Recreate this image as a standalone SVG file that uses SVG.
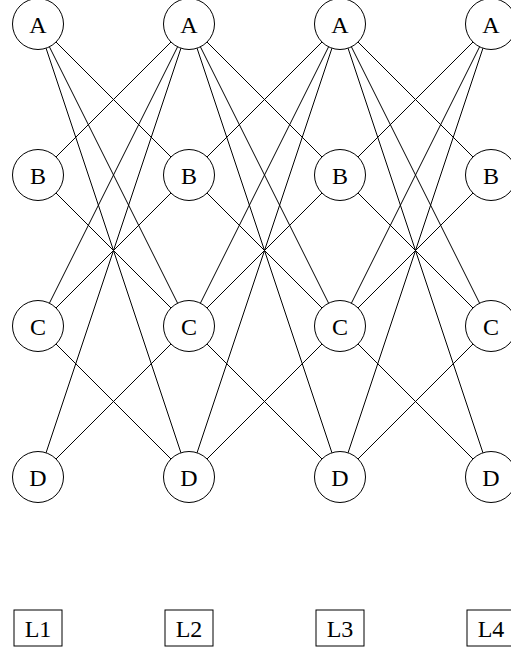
<svg xmlns="http://www.w3.org/2000/svg" width="511" height="651" viewBox="0 0 511 651">
<style>
.n circle{fill:#fff;stroke:#000;stroke-width:1}
.lab rect{fill:#fff;stroke:#000;stroke-width:1}
text{font-family:"Liberation Serif","Times New Roman",serif;font-size:24px;fill:#000;text-anchor:middle}
#edges line{stroke:#000;stroke-width:1}
</style>
<rect width="511" height="651" fill="#fff"/>
<g id="edges">
<line x1="56.03" y1="42.03" x2="170.97" y2="156.97"/>
<line x1="49.40" y1="46.81" x2="177.60" y2="303.19"/>
<line x1="46.06" y1="48.19" x2="180.94" y2="452.81"/>
<line x1="56.03" y1="156.97" x2="170.97" y2="42.03"/>
<line x1="56.03" y1="193.03" x2="170.97" y2="307.97"/>
<line x1="49.40" y1="303.19" x2="177.60" y2="46.81"/>
<line x1="56.03" y1="307.97" x2="170.97" y2="193.03"/>
<line x1="56.03" y1="344.03" x2="170.97" y2="458.97"/>
<line x1="46.06" y1="452.81" x2="180.94" y2="48.19"/>
<line x1="56.03" y1="458.97" x2="170.97" y2="344.03"/>
<line x1="207.03" y1="42.03" x2="321.97" y2="156.97"/>
<line x1="200.40" y1="46.81" x2="328.60" y2="303.19"/>
<line x1="197.06" y1="48.19" x2="331.94" y2="452.81"/>
<line x1="207.03" y1="156.97" x2="321.97" y2="42.03"/>
<line x1="207.03" y1="193.03" x2="321.97" y2="307.97"/>
<line x1="200.40" y1="303.19" x2="328.60" y2="46.81"/>
<line x1="207.03" y1="307.97" x2="321.97" y2="193.03"/>
<line x1="207.03" y1="344.03" x2="321.97" y2="458.97"/>
<line x1="197.06" y1="452.81" x2="331.94" y2="48.19"/>
<line x1="207.03" y1="458.97" x2="321.97" y2="344.03"/>
<line x1="358.03" y1="42.03" x2="472.97" y2="156.97"/>
<line x1="351.40" y1="46.81" x2="479.60" y2="303.19"/>
<line x1="348.06" y1="48.19" x2="482.94" y2="452.81"/>
<line x1="358.03" y1="156.97" x2="472.97" y2="42.03"/>
<line x1="358.03" y1="193.03" x2="472.97" y2="307.97"/>
<line x1="351.40" y1="303.19" x2="479.60" y2="46.81"/>
<line x1="358.03" y1="307.97" x2="472.97" y2="193.03"/>
<line x1="358.03" y1="344.03" x2="472.97" y2="458.97"/>
<line x1="348.06" y1="452.81" x2="482.94" y2="48.19"/>
<line x1="358.03" y1="458.97" x2="472.97" y2="344.03"/>
</g>
<g id="A1" class="n"><circle cx="38" cy="24" r="25.5"/><text x="38" y="32.5">A</text></g>
<g id="A2" class="n"><circle cx="189" cy="24" r="25.5"/><text x="189" y="32.5">A</text></g>
<g id="A3" class="n"><circle cx="340" cy="24" r="25.5"/><text x="340" y="32.5">A</text></g>
<g id="A4" class="n"><circle cx="491" cy="24" r="25.5"/><text x="491" y="32.5">A</text></g>
<g id="B1" class="n"><circle cx="38" cy="175" r="25.5"/><text x="38" y="183.5">B</text></g>
<g id="B2" class="n"><circle cx="189" cy="175" r="25.5"/><text x="189" y="183.5">B</text></g>
<g id="B3" class="n"><circle cx="340" cy="175" r="25.5"/><text x="340" y="183.5">B</text></g>
<g id="B4" class="n"><circle cx="491" cy="175" r="25.5"/><text x="491" y="183.5">B</text></g>
<g id="C1" class="n"><circle cx="38" cy="326" r="25.5"/><text x="38" y="334.5">C</text></g>
<g id="C2" class="n"><circle cx="189" cy="326" r="25.5"/><text x="189" y="334.5">C</text></g>
<g id="C3" class="n"><circle cx="340" cy="326" r="25.5"/><text x="340" y="334.5">C</text></g>
<g id="C4" class="n"><circle cx="491" cy="326" r="25.5"/><text x="491" y="334.5">C</text></g>
<g id="D1" class="n"><circle cx="38" cy="477" r="25.5"/><text x="38" y="485.5">D</text></g>
<g id="D2" class="n"><circle cx="189" cy="477" r="25.5"/><text x="189" y="485.5">D</text></g>
<g id="D3" class="n"><circle cx="340" cy="477" r="25.5"/><text x="340" y="485.5">D</text></g>
<g id="D4" class="n"><circle cx="491" cy="477" r="25.5"/><text x="491" y="485.5">D</text></g>
<g id="L1" class="lab"><rect x="14" y="610" width="48" height="36"/><text x="38" y="636.5">L1</text></g>
<g id="L2" class="lab"><rect x="165" y="610" width="48" height="36"/><text x="189" y="636.5">L2</text></g>
<g id="L3" class="lab"><rect x="316" y="610" width="48" height="36"/><text x="340" y="636.5">L3</text></g>
<g id="L4" class="lab"><rect x="467" y="610" width="48" height="36"/><text x="491" y="636.5">L4</text></g>
</svg>
